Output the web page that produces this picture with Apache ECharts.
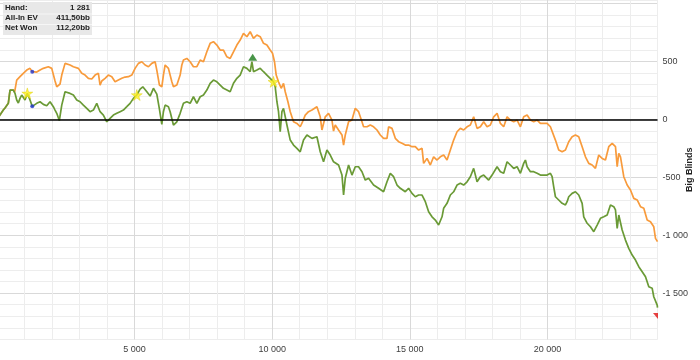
<!DOCTYPE html>
<html>
<head>
<meta charset="utf-8">
<script src="https://cdn.jsdelivr.net/npm/echarts@6/dist/echarts.min.js"></script>
<style>
html,body{margin:0;padding:0;background:#fff;}
#chart{width:700px;height:360px;}
</style>
</head>
<body>
<div id="chart"></div>
<script>
// ---- DATA (hands, big blinds) ----
const netWon = [[0,0],[229,80],[291,98],[411,138],[473,253],[535,238],[593,253],[655,224],[716,167],[775,141],[836,181],[898,210],[956,224],[1018,167],[1102,224],[1200,167],[1281,112],[1444,138],[1564,152],[1684,129],[1807,117],[1927,152],[2047,109],[2109,80],[2171,52],[2265,-10],[2353,123],[2473,238],[2535,253],[2655,224],[2775,210],[2898,167],[3018,152],[3138,123],[3262,95],[3382,66],[3502,80],[3625,138],[3745,66],[3865,37],[3989,-21],[4109,9],[4229,37],[4353,52],[4473,66],[4593,80],[4716,109],[4836,138],[4956,181],[5080,210],[5200,261],[5298,281],[5444,238],[5564,201],[5684,268],[5807,218],[5902,89],[5989,-43],[6047,66],[6109,123],[6229,109],[6291,66],[6411,-49],[6535,-21],[6655,52],[6775,138],[6898,152],[7018,138],[7138,195],[7262,138],[7382,195],[7502,210],[7625,253],[7745,311],[7865,339],[7989,324],[8109,296],[8229,268],[8353,253],[8473,238],[8593,311],[8716,354],[8836,382],[8956,454],[9080,440],[9200,411],[9262,497],[9320,411],[9444,425],[9564,440],[9684,411],[9807,382],[9927,354],[10047,324],[10109,281],[10171,152],[10229,66],[10291,-107],[10353,66],[10411,95],[10535,-49],[10655,-179],[10775,-222],[10898,-250],[11018,-280],[11138,-179],[11262,-135],[11444,-164],[11625,-150],[11745,-280],[11865,-366],[11989,-265],[12109,-308],[12229,-366],[12291,-380],[12411,-394],[12535,-481],[12593,-653],[12655,-509],[12775,-394],[12836,-380],[12898,-481],[13018,-409],[13138,-409],[13262,-452],[13382,-524],[13502,-509],[13684,-567],[13865,-595],[14047,-625],[14171,-539],[14291,-466],[14411,-495],[14535,-567],[14655,-595],[14836,-625],[14956,-595],[15080,-639],[15200,-668],[15320,-653],[15444,-653],[15564,-711],[15684,-797],[15807,-841],[15927,-869],[16047,-912],[16171,-841],[16229,-768],[16353,-725],[16473,-653],[16593,-625],[16716,-567],[16836,-552],[16956,-567],[17080,-539],[17200,-495],[17320,-423],[17444,-539],[17564,-495],[17684,-481],[17865,-524],[17989,-481],[18171,-409],[18291,-452],[18411,-466],[18535,-366],[18655,-394],[18775,-423],[18898,-409],[19018,-466],[19138,-380],[19200,-351],[19262,-409],[19382,-452],[19502,-452],[19625,-466],[19745,-481],[19865,-481],[19989,-481],[20109,-466],[20171,-495],[20229,-582],[20291,-668],[20411,-696],[20535,-725],[20655,-739],[20716,-711],[20775,-668],[20898,-639],[21018,-625],[21138,-653],[21262,-725],[21320,-841],[21444,-897],[21564,-927],[21684,-970],[21807,-912],[21927,-854],[22047,-841],[22171,-826],[22291,-739],[22411,-754],[22473,-782],[22535,-941],[22593,-826],[22655,-811],[22716,-955],[22836,-1042],[22956,-1113],[23080,-1171],[23200,-1214],[23320,-1272],[23444,-1315],[23564,-1358],[23684,-1445],[23807,-1458],[23865,-1531],[23989,-1603],[24000,-1625]];

const allInEV = [[0,0],[229,80],[291,98],[411,138],[473,253],[535,238],[593,253],[640,235],[655,252],[716,339],[836,368],[956,397],[1080,425],[1200,440],[1281,412],[1444,408],[1564,425],[1684,440],[1865,454],[1989,440],[2047,454],[2109,331],[2171,281],[2291,305],[2353,382],[2473,483],[2535,497],[2655,469],[2775,454],[2958,440],[3080,397],[3200,382],[3320,354],[3444,348],[3564,382],[3684,397],[3745,296],[3807,331],[3927,354],[4047,382],[4171,368],[4291,324],[4411,339],[4535,354],[4655,365],[4775,368],[4898,382],[5018,440],[5138,483],[5262,497],[5382,469],[5502,454],[5625,483],[5745,497],[5807,425],[5902,296],[5989,281],[6047,382],[6109,469],[6229,440],[6353,324],[6411,281],[6535,296],[6655,382],[6716,469],[6775,512],[6898,526],[7018,497],[7138,454],[7262,454],[7382,512],[7502,497],[7625,583],[7745,656],[7865,670],[7989,641],[8109,598],[8229,598],[8353,540],[8473,526],[8593,583],[8716,641],[8836,684],[8956,742],[9080,713],[9200,756],[9320,699],[9444,728],[9564,713],[9684,656],[9807,641],[9927,598],[10011,570],[10084,497],[10145,382],[10229,324],[10327,268],[10411,311],[10473,238],[10571,152],[10655,66],[10775,-21],[10898,-35],[11018,-64],[11102,-21],[11200,37],[11320,66],[11444,80],[11625,109],[11745,22],[11807,-92],[11927,22],[12047,52],[12171,-6],[12229,-101],[12291,-49],[12411,-92],[12535,-135],[12593,-222],[12655,-135],[12775,-21],[12898,-6],[13018,95],[13138,66],[13262,-21],[13320,-64],[13444,-64],[13564,-49],[13684,-64],[13807,-92],[13927,-135],[14047,-164],[14171,-164],[14229,-64],[14353,-78],[14473,-164],[14593,-193],[14716,-207],[14836,-222],[14956,-222],[15080,-236],[15200,-236],[15320,-265],[15444,-250],[15502,-380],[15625,-337],[15745,-394],[15865,-323],[15989,-351],[16109,-323],[16229,-308],[16353,-351],[16473,-265],[16593,-179],[16716,-107],[16836,-78],[16956,-92],[17080,-64],[17200,-49],[17320,22],[17444,-78],[17564,-64],[17684,-21],[17807,-64],[17927,-49],[18047,22],[18171,52],[18291,-35],[18411,-64],[18535,22],[18655,-6],[18775,-21],[18898,-6],[19018,-64],[19138,22],[19262,37],[19382,-6],[19502,-21],[19625,-6],[19745,-35],[19865,-35],[19989,-35],[20109,-64],[20171,-78],[20291,-179],[20411,-265],[20535,-280],[20655,-265],[20775,-193],[20898,-150],[21018,-135],[21138,-150],[21262,-236],[21382,-323],[21502,-380],[21625,-394],[21745,-423],[21865,-308],[21989,-337],[22109,-351],[22229,-236],[22353,-207],[22473,-236],[22535,-409],[22593,-293],[22655,-323],[22775,-495],[22898,-567],[23018,-610],[23138,-682],[23262,-696],[23382,-754],[23502,-768],[23625,-869],[23745,-884],[23865,-927],[23927,-1027],[24000,-1055]];

const starPoints = [[1102,224],[5080,210],[10047,324]];
const hoverHand = 1281;
const hoverValues = [411.5, 112.2];
const maxMarker = [[9290,535]];
const minMarker = [[24000,-1698]];

const xTickLabels = [5000, 10000, 15000, 20000];
const yTickLabels = [500, 0, -500, -1000, -1500];

const infoLabels = ['Hand:', 'All-In EV', 'Net Won'];
const infoValues = ['1 281', '411,50bb', '112,20bb'];

// ---- CHART ----
const FONT = "'Liberation Sans', Arial, sans-serif";
const MIN_C = '#ededed', MAJ_C = '#d9d9d9';
function fmt(v){
  const s = String(Math.abs(v)).replace(/\B(?=(\d{3})+(?!\d))/g, ' ');
  return (v < 0 ? '-' : '') + s;
}
const chart = echarts.init(document.getElementById('chart'), null, {renderer:'canvas'});

const starPath = 'path://M50,0 L61,35 L98,35 L68,57 L79,91 L50,70 L21,91 L32,57 L2,35 L39,35 Z';

const infoGraphics = [];
infoGraphics.push({type:'rect', left:3, top:2, shape:{width:89, height:33}, style:{fill:'#e8e8e8'}, z:100});
infoGraphics.push({type:'rect', left:3, top:13.5, shape:{width:89, height:1}, style:{fill:'#f6f6f6'}, z:101});
infoGraphics.push({type:'rect', left:3, top:24, shape:{width:89, height:1}, style:{fill:'#f6f6f6'}, z:101});
infoLabels.forEach((t, i) => {
  infoGraphics.push({type:'text', left:5, top:3.5 + i*10.3, z:102,
    style:{text:t, font:"bold 8px " + FONT, fill:'#222'}});
  infoGraphics.push({type:'text', right:700-90, top:3.5 + i*10.3, z:102,
    style:{text:infoValues[i], font:"bold 8px " + FONT, fill:'#222', textAlign:'right'}});
});

const option = {
  animation: false,
  backgroundColor: '#ffffff',
  grid: {left: -3, right: 42.5, top: 0, bottom: 20.5, containLabel: false, outerBoundsMode: 'none'},
  xAxis: {
    type: 'value', min: 0, max: 24000, interval: 1000,
    axisLine: {show: true, lineStyle: {color: '#d2d2d2', width: 1}},
    axisTick: {show: true, length: 3, lineStyle: {color: '#e2e2e2'}},
    axisLabel: {
      formatter: v => xTickLabels.indexOf(v) >= 0 ? fmt(v) : '',
      fontSize: 9, color: '#404040', fontFamily: FONT, margin: 6
    },
    splitLine: {show: true, lineStyle: {color: [MAJ_C, MIN_C, MIN_C, MIN_C, MIN_C], width: 1}}
  },
  yAxis: {
    type: 'value', position: 'right', min: -1900, max: 1030, interval: 100,
    axisLine: {show: true, lineStyle: {color: '#d2d2d2', width: 1}},
    axisTick: {show: false},
    axisLabel: {
      formatter: v => yTickLabels.indexOf(v) >= 0 ? fmt(v) : '',
      fontSize: 9, color: '#404040', fontFamily: FONT, margin: 5
    },
    splitLine: {show: true, lineStyle: {color: [MIN_C, MIN_C, MIN_C, MIN_C, MAJ_C], width: 1}},
    name: 'Big Blinds', nameLocation: 'middle', nameGap: 28, nameRotate: 90, nameMoveOverlap: false,
    nameTextStyle: {fontWeight: 'bold', fontSize: 9, color: '#222', fontFamily: FONT}
  },
  series: [
    {
      name: 'All-In EV', type: 'line', data: allInEV, showSymbol: false, symbol: 'none',
      lineStyle: {color: '#F89B3C', width: 1.7}, z: 2,
      markLine: {
        silent: true, symbol: ['none', 'none'], label: {show: false},
        lineStyle: {color: '#000', width: 1.6, type: 'solid'},
        data: [{yAxis: 0}]
      }
    },
    {
      name: 'Net Won', type: 'line', data: netWon, showSymbol: false, symbol: 'none',
      lineStyle: {color: '#6A9A36', width: 1.7}, z: 3
    },
    {
      type: 'scatter', data: starPoints, symbol: starPath, symbolSize: 11, z: 6,
      itemStyle: {color: '#FFF01E', borderColor: '#d6c800', borderWidth: 0.5}
    },
    {
      type: 'scatter', data: hoverValues.map(v => [hoverHand, v]), symbol: 'circle', symbolSize: 4, z: 6,
      itemStyle: {color: '#1f35d0'}
    },
    {
      type: 'scatter', data: maxMarker, symbol: 'triangle', symbolSize: [9, 7], z: 6,
      itemStyle: {color: '#1c7a1c'}
    },
    {
      type: 'scatter', data: minMarker, symbol: 'path://M0,0 L10,0 L10,12 Z', symbolSize: [5, 6],
      symbolOffset: [-2, 0], z: 6, itemStyle: {color: '#e01010'}
    }
  ],
  graphic: infoGraphics
};
chart.setOption(option);
</script>
</body>
</html>
